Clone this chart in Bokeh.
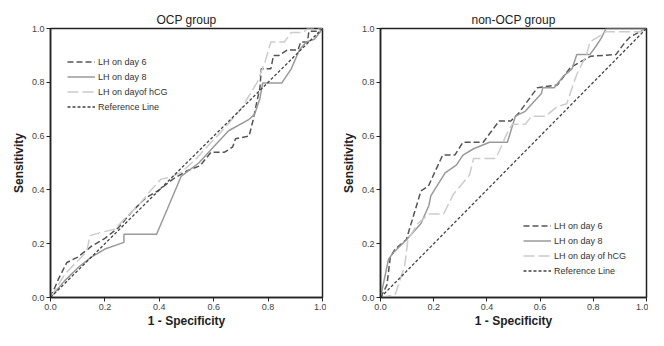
from bokeh.plotting import figure
from bokeh.layouts import row
from bokeh.models import Range1d, FixedTicker, PrintfTickFormatter, Legend, LegendItem
from bokeh.embed import file_html
from bokeh.resources import INLINE

# ---- data ----
titles = ["OCP group", "non-OCP group"]
legend_left = ["LH on day 6", "LH on day 8", "LH on dayof hCG", "Reference Line"]
legend_right = ["LH on day 6", "LH on day 8", "LH on day of hCG", "Reference Line"]
ticks = [0.0, 0.2, 0.4, 0.6, 0.8, 1.0]

ocp_d6_x = [0, 0.03, 0.06, 0.10, 0.15, 0.20, 0.25, 0.30, 0.35, 0.40, 0.45, 0.50, 0.55, 0.59, 0.64, 0.67, 0.68, 0.73, 0.745, 0.757, 0.77, 0.775, 0.81, 0.82, 0.84, 0.87, 0.91, 0.92, 0.945, 0.95, 0.98, 1.0]
ocp_d6_y = [0, 0.07, 0.13, 0.15, 0.19, 0.22, 0.26, 0.32, 0.37, 0.40, 0.44, 0.47, 0.49, 0.54, 0.54, 0.56, 0.59, 0.60, 0.66, 0.72, 0.78, 0.85, 0.85, 0.90, 0.90, 0.92, 0.92, 0.95, 0.95, 0.99, 0.99, 1.0]

ocp_d8_x = [0, 0.05, 0.10, 0.15, 0.20, 0.27, 0.27, 0.39, 0.43, 0.48, 0.545, 0.606, 0.655, 0.727, 0.75, 0.77, 0.78, 0.85, 0.885, 0.915, 0.94, 0.97, 0.99, 1.0]
ocp_d8_y = [0, 0.06, 0.11, 0.15, 0.18, 0.205, 0.235, 0.235, 0.33, 0.45, 0.50, 0.567, 0.62, 0.66, 0.68, 0.74, 0.797, 0.797, 0.85, 0.92, 0.95, 0.96, 0.985, 1.0]

ocp_hcg_x = [0, 0.055, 0.133, 0.145, 0.19, 0.236, 0.28, 0.33, 0.37, 0.406, 0.44, 0.48, 0.53, 0.58, 0.64, 0.70, 0.733, 0.76, 0.79, 0.81, 0.86, 0.885, 0.93, 0.945, 1.0]
ocp_hcg_y = [0, 0.09, 0.17, 0.23, 0.243, 0.254, 0.30, 0.35, 0.40, 0.44, 0.447, 0.465, 0.51, 0.565, 0.63, 0.70, 0.755, 0.80, 0.88, 0.95, 0.95, 0.985, 0.985, 1.0, 1.0]

non_d6_x = [0, 0.024, 0.037, 0.055, 0.097, 0.152, 0.18, 0.234, 0.28, 0.31, 0.386, 0.446, 0.49, 0.52, 0.59, 0.665, 0.714, 0.79, 0.885, 0.92, 0.94, 1.0]
non_d6_y = [0, 0.046, 0.15, 0.18, 0.215, 0.396, 0.414, 0.53, 0.53, 0.577, 0.577, 0.656, 0.656, 0.686, 0.78, 0.79, 0.855, 0.897, 0.903, 0.95, 0.97, 1.0]

non_d8_x = [0, 0.03, 0.049, 0.103, 0.152, 0.182, 0.189, 0.243, 0.286, 0.31, 0.35, 0.41, 0.477, 0.507, 0.544, 0.605, 0.61, 0.653, 0.69, 0.72, 0.738, 0.787, 0.81, 0.83, 0.848, 1.0]
non_d8_y = [0, 0.142, 0.167, 0.22, 0.275, 0.342, 0.378, 0.463, 0.493, 0.529, 0.553, 0.577, 0.577, 0.674, 0.692, 0.758, 0.78, 0.78, 0.825, 0.85, 0.903, 0.903, 0.934, 0.964, 1.0, 1.0]

non_hcg_x = [0, 0.055, 0.091, 0.103, 0.14, 0.182, 0.237, 0.274, 0.335, 0.35, 0.434, 0.477, 0.495, 0.544, 0.568, 0.62, 0.665, 0.70, 0.738, 0.775, 0.787, 0.82, 0.848, 0.98, 1.0]
non_hcg_y = [0, 0.01, 0.118, 0.215, 0.275, 0.31, 0.31, 0.384, 0.456, 0.517, 0.517, 0.613, 0.644, 0.644, 0.674, 0.674, 0.71, 0.72, 0.83, 0.903, 0.95, 0.97, 0.988, 0.988, 1.0]

ref_x = [0, 1]
ref_y = [0, 1]

FONT = "Liberation Sans"
C6, C8, CH, CR = "#555555", "#9a9a9a", "#cccccc", "#444444"


def make(title, series, labels, width, bl, br, leg_loc):
    p = figure(width=width, height=330, output_backend="svg", toolbar_location=None,
               x_range=Range1d(0, 1), y_range=Range1d(0, 1),
               min_border_left=bl, min_border_right=br, min_border_top=28, min_border_bottom=30)
    p.title.text = title
    p.title.align = "center"
    p.title.text_font = FONT
    p.title.text_font_size = "12px"
    p.title.text_font_style = "normal"
    p.title.text_color = "#222222"
    p.title.standoff = 3
    p.grid.visible = False
    p.outline_line_color = "#222222"
    p.outline_line_width = 1.5
    p.background_fill_color = "white"
    p.border_fill_color = "white"
    for ax in (p.xaxis[0], p.yaxis[0]):
        ax.ticker = FixedTicker(ticks=ticks)
        ax.formatter = PrintfTickFormatter(format="%.1f")
        ax.minor_tick_line_color = None
        ax.major_tick_in = 0
        ax.major_tick_out = 4
        ax.axis_line_width = 1.5
        ax.axis_line_color = "#222222"
        ax.major_tick_line_color = "#222222"
        ax.major_label_text_font = FONT
        ax.major_label_text_font_size = "9px"
        ax.major_label_text_color = "#444444"
        ax.axis_label_text_font = FONT
        ax.axis_label_text_font_size = "12px"
        ax.axis_label_text_font_style = "bold"
        ax.axis_label_text_color = "#222222"
    p.xaxis.axis_label = "1 - Specificity"
    p.yaxis.axis_label = "Sensitivity"
    p.yaxis.major_label_standoff = 2
    p.yaxis.axis_label_standoff = 3
    p.xaxis.major_label_standoff = 2
    p.xaxis.axis_label_standoff = 1

    (x6, y6), (x8, y8), (xh, yh) = series
    r6 = p.line(x6, y6, line_color=C6, line_width=1.5, line_dash="6 3")
    r8 = p.line(x8, y8, line_color=C8, line_width=1.5)
    rh = p.line(xh, yh, line_color=CH, line_width=1.5, line_dash="11 4")
    rr = p.line(ref_x, ref_y, line_color=CR, line_width=1.3, line_dash="3 2")

    leg = Legend(items=[LegendItem(label=labels[0], renderers=[r6]),
                        LegendItem(label=labels[1], renderers=[r8]),
                        LegendItem(label=labels[2], renderers=[rh]),
                        LegendItem(label=labels[3], renderers=[rr])],
                 location=leg_loc, margin=0, padding=0, spacing=0,
                 glyph_width=28, glyph_height=15, label_height=15, label_standoff=3,
                 label_text_font=FONT, label_text_font_size="9px", label_text_color="#333333",
                 border_line_color=None, background_fill_alpha=0)
    p.add_layout(leg)
    return p


p1 = make(titles[0], [(ocp_d6_x, ocp_d6_y), (ocp_d8_x, ocp_d8_y), (ocp_hcg_x, ocp_hcg_y)],
          legend_left, 326, 50, 4, (17, 270 - 27 - 60))
p2 = make(titles[1], [(non_d6_x, non_d6_y), (non_d8_x, non_d8_y), (non_hcg_x, non_hcg_y)],
          legend_right, 322, 54, 2, (143, 19))

layout = row(p1, p2)
open("out.html", "w").write(file_html(layout, INLINE))
